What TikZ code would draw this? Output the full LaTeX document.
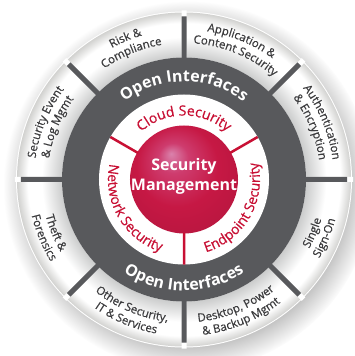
\documentclass[tikz,border=0pt]{standalone}
\usepackage{fontspec}
\setmainfont{Open Sans}
\newfontfamily\labelfont{Open Sans}[FakeBold=0.6]
\usepackage{tikz}
\usetikzlibrary{decorations.text}
\usetikzlibrary{shadows}
\definecolor{darkring}{RGB}{88,89,92}
\definecolor{labelgray}{RGB}{60,60,62}
\definecolor{ringred}{RGB}{200,16,52}
\definecolor{ringlo}{RGB}{204,205,205}
\definecolor{ringout}{RGB}{210,210,208}
\definecolor{crimson}{RGB}{198,24,68}
\definecolor{ballmid}{RGB}{206,60,110}
\definecolor{ballhl}{RGB}{218,130,172}
\pgfdeclareradialshading{ringshade}{\pgfpoint{0bp}{0bp}}{color(0bp)=(ringlo); color(18.3bp)=(ringlo); color(21.3bp)=(white); color(23.4bp)=(white); color(25bp)=(ringout); color(50bp)=(ringout)}
\pgfdeclareradialshading{redball}{\pgfpoint{-6bp}{12bp}}{color(0bp)=(ballhl); color(7bp)=(ballmid); color(19bp)=(crimson); color(40bp)=(crimson!88!black)}
\newcommand\outerfmt{\labelfont\fontsize{11.5}{13}\selectfont\color{labelgray}}
\newcommand\innerfmt{\labelfont\fontsize{14}{16}\selectfont\color{ringred}}
\newcommand\bandfmt{\fontsize{16}{18}\selectfont\bfseries\color{white}}
\tikzset{
    segsep/.style={draw=darkring, line width=5pt},
    seggap/.style={draw=white, line width=5pt},
    redsep/.style={draw=ringred, line width=2.5pt},
    arctext/.style={decorate, decoration={text along path, text align=center, text={#1}}},
    mgmt/.style={align=center, text=white, font=\fontsize{16}{20}\selectfont\bfseries},
}
\begin{document}
\begin{tikzpicture}[x=1pt, y=1pt]
\useasboundingbox (-184pt,-176.5pt) rectangle (171pt,179.5pt);
% outer ring
\fill[white, circular drop shadow={shadow xshift=4pt, shadow yshift=-6pt, opacity=0.5}] (0,0) circle (168pt);
\shade[shading=ringshade, even odd rule] (0,0) circle (167pt) (0,0) circle (122pt);
\draw[seggap] (0:121pt) -- (0:169pt) (45:121pt) -- (45:169pt) (90:121pt) -- (90:169pt) (135:121pt) -- (135:169pt)
    (180:121pt) -- (180:169pt) (225:121pt) -- (225:169pt) (270:121pt) -- (270:169pt) (315:121pt) -- (315:169pt);
\draw[segsep] (0:121pt) -- (0:163pt) (45:121pt) -- (45:163pt) (90:121pt) -- (90:163pt) (135:121pt) -- (135:163pt)
    (180:121pt) -- (180:163pt) (225:121pt) -- (225:163pt) (270:121pt) -- (270:163pt) (315:121pt) -- (315:163pt);
% dark ring, white ring, ball
\fill[darkring] (0,0) circle (122pt);
\fill[white] (0,0) circle (85pt);
\shade[shading=redball] (0,0) circle (54pt);
\draw[redsep] (30:53pt) -- (30:85pt) (150:53pt) -- (150:85pt) (270:53pt) -- (270:85pt);
\node[mgmt] (mgmt) at (0,3pt) {Security\\Management};
% open interfaces
\path[arctext={|\bandfmt|Open Interfaces}] (150:98pt) arc[start angle=150, end angle=30, radius=98pt];
\path[arctext={|\bandfmt|Open Interfaces}] (210:111pt) arc[start angle=210, end angle=330, radius=111pt];
% inner ring
\path[arctext={|\innerfmt|Cloud Security}] (150:64pt) arc[start angle=150, end angle=30, radius=64pt];
\path[arctext={|\innerfmt|Endpoint Security}] (270:76pt) arc[start angle=270, end angle=390, radius=76pt];
\path[arctext={|\innerfmt|Network Security}] (150:76pt) arc[start angle=150, end angle=270, radius=76pt];
% outer labels, upper half
\path[arctext={|\outerfmt|Authentication}] (45:150pt) arc[start angle=45, end angle=0, radius=150pt];
\path[arctext={|\outerfmt|{\&} Encryption}] (45:136.5pt) arc[start angle=45, end angle=0, radius=136.5pt];
\path[arctext={|\outerfmt|Application {\&}}] (90:150pt) arc[start angle=90, end angle=45, radius=150pt];
\path[arctext={|\outerfmt|Content Security}] (90:136.5pt) arc[start angle=90, end angle=45, radius=136.5pt];
\path[arctext={|\outerfmt|Risk {\&}}] (135:150pt) arc[start angle=135, end angle=90, radius=150pt];
\path[arctext={|\outerfmt|Compliance}] (135:136.5pt) arc[start angle=135, end angle=90, radius=136.5pt];
\path[arctext={|\outerfmt|Security Event}] (180:150pt) arc[start angle=180, end angle=135, radius=150pt];
\path[arctext={|\outerfmt|{\&} Log Mgmt}] (180:136.5pt) arc[start angle=180, end angle=135, radius=136.5pt];
% outer labels, lower half
\path[arctext={|\outerfmt|Theft {\&}}] (180:143pt) arc[start angle=180, end angle=225, radius=143pt];
\path[arctext={|\outerfmt|Forensics}] (180:156.5pt) arc[start angle=180, end angle=225, radius=156.5pt];
\path[arctext={|\outerfmt|Other Security,}] (225:143pt) arc[start angle=225, end angle=270, radius=143pt];
\path[arctext={|\outerfmt|IT {\&} Services}] (225:156.5pt) arc[start angle=225, end angle=270, radius=156.5pt];
\path[arctext={|\outerfmt|Desktop, Power}] (270:143pt) arc[start angle=270, end angle=315, radius=143pt];
\path[arctext={|\outerfmt|{\&} Backup Mgmt}] (270:156.5pt) arc[start angle=270, end angle=315, radius=156.5pt];
\path[arctext={|\outerfmt|Single}] (315:143pt) arc[start angle=315, end angle=360, radius=143pt];
\path[arctext={|\outerfmt|Sign-On}] (315:156.5pt) arc[start angle=315, end angle=360, radius=156.5pt];
\end{tikzpicture}
\end{document}
